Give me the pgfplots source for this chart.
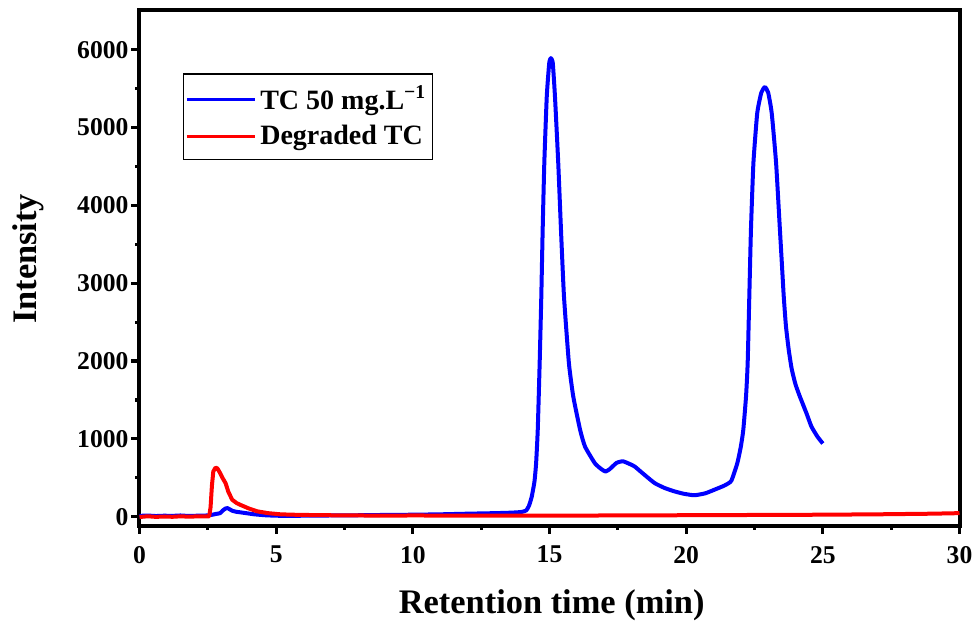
\documentclass[border=0pt]{standalone}
\usepackage{fontspec}
\setmainfont{Liberation Serif}
\usepackage{pgfplots}
\pgfplotsset{compat=1.18}
\definecolor{tcblue}{RGB}{0,0,255}
\definecolor{tcred}{RGB}{255,0,0}

\begin{document}
\begin{tikzpicture}
\begin{axis}[
    scale only axis, width=410pt, height=257.75pt,
    xmin=0, xmax=30, ymin=-120, ymax=6505,
    xtick={0,5,...,30}, ytick={0,1000,...,6000},
    minor x tick num=1, minor y tick num=1,
    xtick pos=lower, ytick pos=left,
    tick align=outside,
    major tick length=4pt, minor tick length=2pt,
    axis line style={line width=2pt},
    every tick/.style={line width=1.6pt, black},
    /pgf/number format/assume math mode=true,
    /pgf/number format/1000 sep={},
    ticklabel style={font=\fontsize{12.8}{14}\selectfont\bfseries},
    xticklabel style={yshift=-2.5pt},
    yticklabel style={xshift=2pt},
    label style={font=\fontsize{17.2}{20}\selectfont\bfseries},
    xlabel={Retention time (min)},
    ylabel={Intensity},
    xlabel style={at={(axis description cs:0.5027,-0.1707)}, anchor=base},
    ylabel style={at={(axis description cs:-0.1262,0.518)}, anchor=base},
    legend style={at={(axis description cs:0.0527,0.878)}, anchor=north west,
                  draw=black, line width=0.6pt, inner xsep=1pt, inner ysep=4pt,
                  font=\fontsize{14}{16}\selectfont\bfseries,
                  row sep=2.5pt,
                  /tikz/every even column/.append style={column sep=3pt}},
    legend cell align=left,
    legend image code/.code={\draw[#1, line width=1.5pt] (0pt,0pt) -- (34pt,0pt);},
  ]
  \addplot[tcblue, line width=2pt, line join=round, smooth, tension=0.3] coordinates {
    (0.0,10) (0.3,14) (0.6,8) (0.9,12) (1.2,10) (1.5,15) (1.8,9) (2.1,12) (2.4,14)
    (2.6,20) (2.8,35) (2.95,45) (3.05,80) (3.15,105) (3.22,110) (3.3,95) (3.4,75)
    (3.55,62) (3.7,55) (3.9,45) (4.2,30) (4.6,18) (5.0,12) (5.5,10) (6.0,12)
    (7.0,15) (8.0,18) (9.0,22) (10.0,25) (11.0,30) (12.0,38) (13.0,45) (13.5,50)
    (13.8,55) (14.0,62) (14.15,80) (14.25,140) (14.35,257) (14.45,450) (14.51,686)
    (14.57,1115) (14.64,1972) (14.70,2829) (14.75,3686) (14.81,4544) (14.90,5400)
    (14.99,5829) (15.05,5893) (15.12,5829) (15.20,5400) (15.32,4544) (15.42,3686)
    (15.53,2829) (15.71,1972) (15.87,1543) (16.12,1115) (16.30,900) (16.66,686)
    (16.9,610) (17.05,580) (17.2,610) (17.45,690) (17.68,712) (17.9,682)
    (18.11,646) (18.4,560) (18.84,433) (19.2,370) (19.57,325) (19.9,295)
    (20.3,275) (20.7,300) (21.04,347) (21.4,400) (21.65,460) (21.87,686)
    (22.0,900) (22.09,1115) (22.19,1543) (22.25,1972) (22.31,2829) (22.37,3686)
    (22.46,4544) (22.60,5186) (22.75,5450) (22.88,5521) (23.0,5450)
    (23.13,5186) (23.29,4544) (23.43,3686) (23.50,3260) (23.57,2830)
    (23.65,2450) (23.75,2150) (23.86,1900) (24.0,1700) (24.16,1543)
    (24.4,1330) (24.58,1160) (24.8,1030) (25.0,940)
  };
  \addplot[tcred, line width=2pt, line join=round] coordinates {
    (0.0,-5) (0.3,5) (0.6,-3) (0.9,2) (1.2,-2) (1.5,4) (1.8,0) (2.1,3) (2.4,2)
    (2.55,5) (2.6,120) (2.65,400) (2.7,580) (2.78,630) (2.85,620) (2.95,560)
    (3.05,490) (3.15,430) (3.25,320) (3.39,218) (3.55,175) (3.7,150) (3.82,132)
    (4.0,105) (4.31,68) (4.7,45) (5.16,30) (5.6,25) (6.0,22) (7.0,18) (8.0,15)
    (9.0,14) (10.0,15) (12.0,14) (14.0,13) (15.0,13) (17.0,15) (19.0,17)
    (21.0,20) (23.0,22) (25.0,25) (27.0,30) (29.0,38) (30.0,45)
  };
  \legend{{TC 50 mg.L\textsuperscript{−1}},{Degraded TC}}
\end{axis}
\pgfresetboundingbox
\useasboundingbox ([shift={(-69.75pt,-51pt)}]current axis.south west) rectangle ([shift={(9.75pt,5.25pt)}]current axis.north east);
\end{tikzpicture}
\end{document}
